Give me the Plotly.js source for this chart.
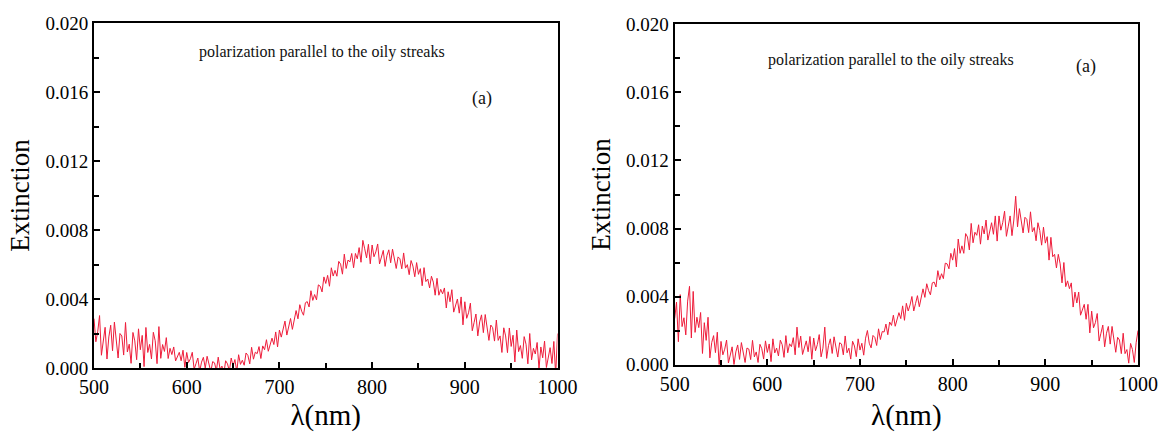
<!DOCTYPE html>
<html>
<head>
<meta charset="utf-8">
<script src="https://cdn.plot.ly/plotly-3.0.1.min.js"></script>
<style>html,body{margin:0;padding:0;background:#fff;}#chart{width:1164px;height:432px;}</style>
</head>
<body>
<div id="chart"></div>
<script>
// Wavelength grid: start 500 nm, step 2 nm (251 samples), 500..1000 nm
const lambdaStart = 500;
const lambdaStep = 2;

// Left panel extinction values
const extinctionLeft = [
0.00286,0.00152,0.00210,0.00304,0.00074, 0.00156,0.00236,0.00052,0.00180,0.00248,
0.00100,0.00266,0.00144,0.00058,0.00200, 0.00186,0.00075,0.00264,0.00093,0.00138,
0.00027,0.00206,0.00157,0.00048,0.00227, 0.00106,0.00189,0.00008,0.00235,0.00090,
0.00137,0.00052,0.00207,0.00158,0.00025, 0.00240,0.00056,0.00136,0.00096,0.00176,
0.00055,0.00114,0.00078,0.00122,0.00041, 0.00070,0.00091,0.00042,0.00103,0.00004,
0.00090,0.00032,0.00054,0.00091,-0.00007, 0.00025,0.00058,-0.00019,0.00034,0.00062,
0.00000,0.00068,0.00016,-0.00021,0.00037, 0.00030,-0.00016,0.00063,-0.00008,0.00011,
-0.00035,0.00042,0.00024,-0.00019,0.00058, 0.00010,0.00049,-0.00022,0.00077,0.00021,
0.00045,0.00016,0.00087,0.00073,0.00024, 0.00120,0.00051,0.00092,0.00083,0.00124,
0.00055,0.00128,0.00106,0.00164,0.00097, 0.00140,0.00173,0.00136,0.00209,0.00122,
0.00220,0.00179,0.00218,0.00272,0.00191, 0.00240,0.00287,0.00224,0.00291,0.00333,
0.00285,0.00367,0.00329,0.00306,0.00378, 0.00385,0.00354,0.00448,0.00392,0.00426,
0.00395,0.00482,0.00474,0.00441,0.00528, 0.00490,0.00537,0.00474,0.00581,0.00533,
0.00566,0.00532,0.00618,0.00602,0.00544, 0.00660,0.00577,0.00626,0.00615,0.00664,
0.00581,0.00664,0.00633,0.00698,0.00613, 0.00740,0.00691,0.00638,0.00717,0.00604,
0.00713,0.00645,0.00673,0.00719,0.00603, 0.00643,0.00682,0.00589,0.00652,0.00685,
0.00610,0.00689,0.00624,0.00577,0.00644, 0.00633,0.00575,0.00667,0.00579,0.00599,
0.00541,0.00623,0.00591,0.00529,0.00611, 0.00543,0.00576,0.00477,0.00582,0.00501,
0.00516,0.00464,0.00532,0.00498,0.00422, 0.00520,0.00422,0.00456,0.00430,0.00464,
0.00348,0.00442,0.00384,0.00454,0.00324, 0.00370,0.00400,0.00318,0.00412,0.00250,
0.00384,0.00288,0.00320,0.00376,0.00216, 0.00264,0.00313,0.00186,0.00267,0.00308,
0.00205,0.00310,0.00223,0.00160,0.00249, 0.00234,0.00156,0.00278,0.00160,0.00186,
0.00090,0.00233,0.00186,0.00089,0.00232, 0.00125,0.00190,0.00035,0.00220,0.00095,
0.00130,0.00056,0.00182,0.00138,0.00024, 0.00200,0.00047,0.00114,0.00081,0.00148,
-0.00005,0.00122,0.00059,0.00156,0.00003, 0.00070,0.00118,0.00026,0.00154,-0.00038,
0.00200
];

// Right panel extinction values
const extinctionRight = [
0.00270,0.00367,0.00134,0.00411,0.00223, 0.00275,0.00174,0.00373,0.00460,0.00156,
0.00430,0.00189,0.00278,0.00217,0.00306, 0.00065,0.00246,0.00142,0.00278,0.00039,
0.00130,0.00170,0.00070,0.00190,-0.00010, 0.00136,0.00057,0.00090,0.00144,0.00009,
0.00056,0.00104,-0.00002,0.00074,0.00115, 0.00030,0.00129,0.00060,0.00012,0.00097,
0.00091,0.00029,0.00142,0.00045,0.00074, 0.00012,0.00119,0.00093,0.00032,0.00139,
0.00071,0.00121,0.00017,0.00151,0.00068, 0.00097,0.00050,0.00143,0.00117,0.00042,
0.00170,0.00069,0.00122,0.00105,0.00158, 0.00057,0.00220,0.00100,0.00167,0.00059,
0.00105,0.00139,0.00075,0.00165,0.00031, 0.00156,0.00081,0.00118,0.00176,0.00045,
0.00096,0.00220,0.00036,0.00111,0.00151, 0.00065,0.00163,0.00093,0.00044,0.00128,
0.00121,0.00057,0.00168,0.00069,0.00096, 0.00032,0.00137,0.00109,0.00046,0.00151,
0.00085,0.00125,0.00055,0.00155,0.00200, 0.00125,0.00098,0.00171,0.00159,0.00112,
0.00210,0.00147,0.00194,0.00191,0.00238, 0.00175,0.00250,0.00230,0.00290,0.00225,
0.00270,0.00305,0.00270,0.00345,0.00260, 0.00360,0.00315,0.00350,0.00400,0.00315,
0.00360,0.00405,0.00340,0.00405,0.00445, 0.00395,0.00475,0.00435,0.00410,0.00480,
0.00485,0.00456,0.00552,0.00498,0.00534, 0.00505,0.00596,0.00592,0.00563,0.00654,
0.00614,0.00682,0.00574,0.00738,0.00654, 0.00698,0.00654,0.00770,0.00750,0.00674,
0.00830,0.00716,0.00778,0.00760,0.00822, 0.00708,0.00814,0.00768,0.00850,0.00732,
0.00790,0.00834,0.00766,0.00874,0.00726, 0.00874,0.00790,0.00834,0.00902,0.00754,
0.00814,0.00874,0.00758,0.00850,0.00990, 0.00810,0.00917,0.00834,0.00774,0.00866,
0.00854,0.00776,0.00898,0.00780,0.00806, 0.00728,0.00834,0.00788,0.00702,0.00808,
0.00714,0.00752,0.00614,0.00748,0.00634, 0.00648,0.00568,0.00648,0.00592,0.00480,
0.00600,0.00458,0.00492,0.00446,0.00480, 0.00338,0.00426,0.00362,0.00426,0.00290,
0.00330,0.00354,0.00266,0.00354,0.00186, 0.00314,0.00216,0.00246,0.00300,0.00138,
0.00184,0.00232,0.00104,0.00184,0.00224, 0.00120,0.00224,0.00136,0.00072,0.00160,
0.00144,0.00064,0.00184,0.00064,0.00088, 0.00008,0.00124,0.00088,0.00012,0.00128,
0.00200
];

const yTickVals = [0, 0.004, 0.008, 0.012, 0.016, 0.020];
const yTickText = ["0.000", "0.004", "0.008", "0.012", "0.016", "0.020"];
const xTickVals = [500, 600, 700, 800, 900, 1000];
const xTickText = ["500", "600", "700", "800", "900", "1000"];
const noteText = "polarization parallel to the oily streaks";
const panelLabel = "(a)";
const xTitle = "λ(nm)";
const yTitle = "Extinction";

const lineColor = "#ee1c3a";
const serif = "Liberation Serif";

const traces = [
  {type: "scatter", mode: "lines", x0: lambdaStart, dx: lambdaStep, y: extinctionLeft,
   xaxis: "x", yaxis: "y", line: {color: lineColor, width: 1}, hoverinfo: "skip", cliponaxis: true},
  {type: "scatter", mode: "lines", x0: lambdaStart, dx: lambdaStep, y: extinctionRight,
   xaxis: "x2", yaxis: "y2", line: {color: lineColor, width: 1}, hoverinfo: "skip", cliponaxis: true}
];

function xAxis(domain, anchor) {
  return {
    domain: domain, anchor: anchor, range: [500, 1000], autorange: false,
    tickmode: "array", tickvals: xTickVals, ticktext: xTickText,
    ticks: "inside", ticklen: 6, tickwidth: 2, tickcolor: "#000",
    minor: {dtick: 50, tick0: 500, ticks: "inside", ticklen: 5, tickwidth: 2, tickcolor: "#000"},
    showline: true, linewidth: 2, linecolor: "#000", mirror: true,
    showgrid: false, zeroline: false, automargin: false,
    tickfont: {family: serif, size: 20, color: "#000"},
    title: {text: xTitle, font: {family: serif, size: 29, color: "#000"}}
  };
}
function yAxis(domain, anchor) {
  return {
    domain: domain, anchor: anchor, range: [0, 0.020], autorange: false,
    tickmode: "array", tickvals: yTickVals, ticktext: yTickText,
    ticks: "inside", ticklen: 6, tickwidth: 2, tickcolor: "#000",
    minor: {dtick: 0.002, tick0: 0, ticks: "inside", ticklen: 5, tickwidth: 2, tickcolor: "#000"},
    showline: true, linewidth: 2, linecolor: "#000", mirror: true,
    showgrid: false, zeroline: false, automargin: false,
    tickfont: {family: serif, size: 19, color: "#000"},
    title: {text: yTitle, font: {family: serif, size: 27, color: "#000"}}
  };
}

const layout = {
  width: 1164, height: 432,
  margin: {l: 94, r: 26, t: 23, b: 64},
  paper_bgcolor: "#fff", plot_bgcolor: "#fff",
  font: {family: serif, color: "#000"},
  showlegend: false,
  xaxis: xAxis([0, 0.444], "y"),
  yaxis: yAxis([0, 1], "x"),
  xaxis2: xAxis([0.5562, 1], "y2"),
  yaxis2: yAxis([0.0101, 0.9957], "x2"),
  annotations: [
    {xref: "x", yref: "y", x: 746, y: 0.01833, text: noteText, showarrow: false,
     font: {family: serif, size: 16, color: "#111"}},
    {xref: "x", yref: "y", x: 918, y: 0.0156, text: panelLabel, showarrow: false,
     font: {family: serif, size: 18, color: "#111"}},
    {xref: "x2", yref: "y2", x: 733, y: 0.0179, text: noteText, showarrow: false,
     font: {family: serif, size: 16, color: "#111"}},
    {xref: "x2", yref: "y2", x: 944, y: 0.01755, text: panelLabel, showarrow: false,
     font: {family: serif, size: 18, color: "#111"}}
  ]
};

Plotly.newPlot("chart", traces, layout, {displayModeBar: false, staticPlot: true});
</script>
</body>
</html>
